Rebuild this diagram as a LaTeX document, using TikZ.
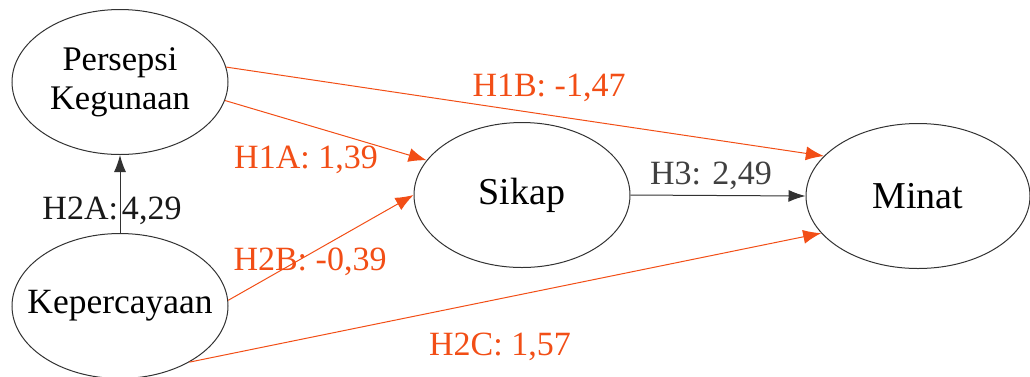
\documentclass[tikz,border=0pt]{standalone}
\usepackage{fontspec}
\setmainfont{Liberation Serif}
\usetikzlibrary{shapes.geometric,arrows.meta}
\definecolor{hor}{RGB}{242,78,22}
\definecolor{edgegray}{RGB}{50,50,50}
\newcommand{\zb}[1]{\makebox[0pt][c]{#1}}
\tikzset{
  var/.style={ellipse, draw=edgegray, line width=1pt, minimum width=216pt, minimum height=145pt, inner sep=0pt, align=center, text=black},
  redarrow/.style={draw=hor, line width=1pt, -{Latex[length=18pt,width=14pt]}},
  blackarrow/.style={draw=edgegray, line width=1pt, -{Latex[length=17pt,width=12pt]}},
  redlabel/.style={text=hor, font=\fontsize{34}{38}\selectfont},
  blacklabel/.style={text=black!90, font=\fontsize{34}{38}\selectfont}
}
\begin{document}
\begin{tikzpicture}[x=1pt,y=-1pt]
\useasboundingbox (0,0) rectangle (1030,376);
\node[var, font=\fontsize{34.5}{39}\selectfont] (P) at (120,82) {\zb{Persepsi}\\\zb{Kegunaan}};
\node[var, font=\fontsize{35.5}{40}\selectfont] (K) at (120,306) {\zb{Kepercayaan}};
\node[var, font=\fontsize{38}{42}\selectfont] (S) at (522,195) {\zb{Sikap}};
\node[var, font=\fontsize{38}{42}\selectfont, minimum width=224pt] (M) at (918,196) {\zb{Minat}};
\draw[blackarrow] (K.north) -- (P.south);
\draw[redarrow] (P.8) -- (M.157);
\draw[redarrow] (P.-10) -- (S.160);
\draw[redarrow] (K.3) -- (S.180);
\draw[redarrow] (K.-39) -- (M.201);
\draw[blackarrow] (S.east) -- (M.west);
\node[blacklabel] (l2a) at (112,211) {H2A:\hspace{4pt}4,29};
\node[redlabel] (l1b) at (549,88) {H1B: -1,47};
\node[redlabel] (l1a) at (306,160) {H1A: 1,39};
\node[redlabel] (l2b) at (310,262) {H2B: -0,39};
\node[redlabel] (l2c) at (500,347) {H2C: 1,57};
\node[blacklabel, text=black!75] (l3) at (711,176) {H3: 2,49};
\end{tikzpicture}
\end{document}
